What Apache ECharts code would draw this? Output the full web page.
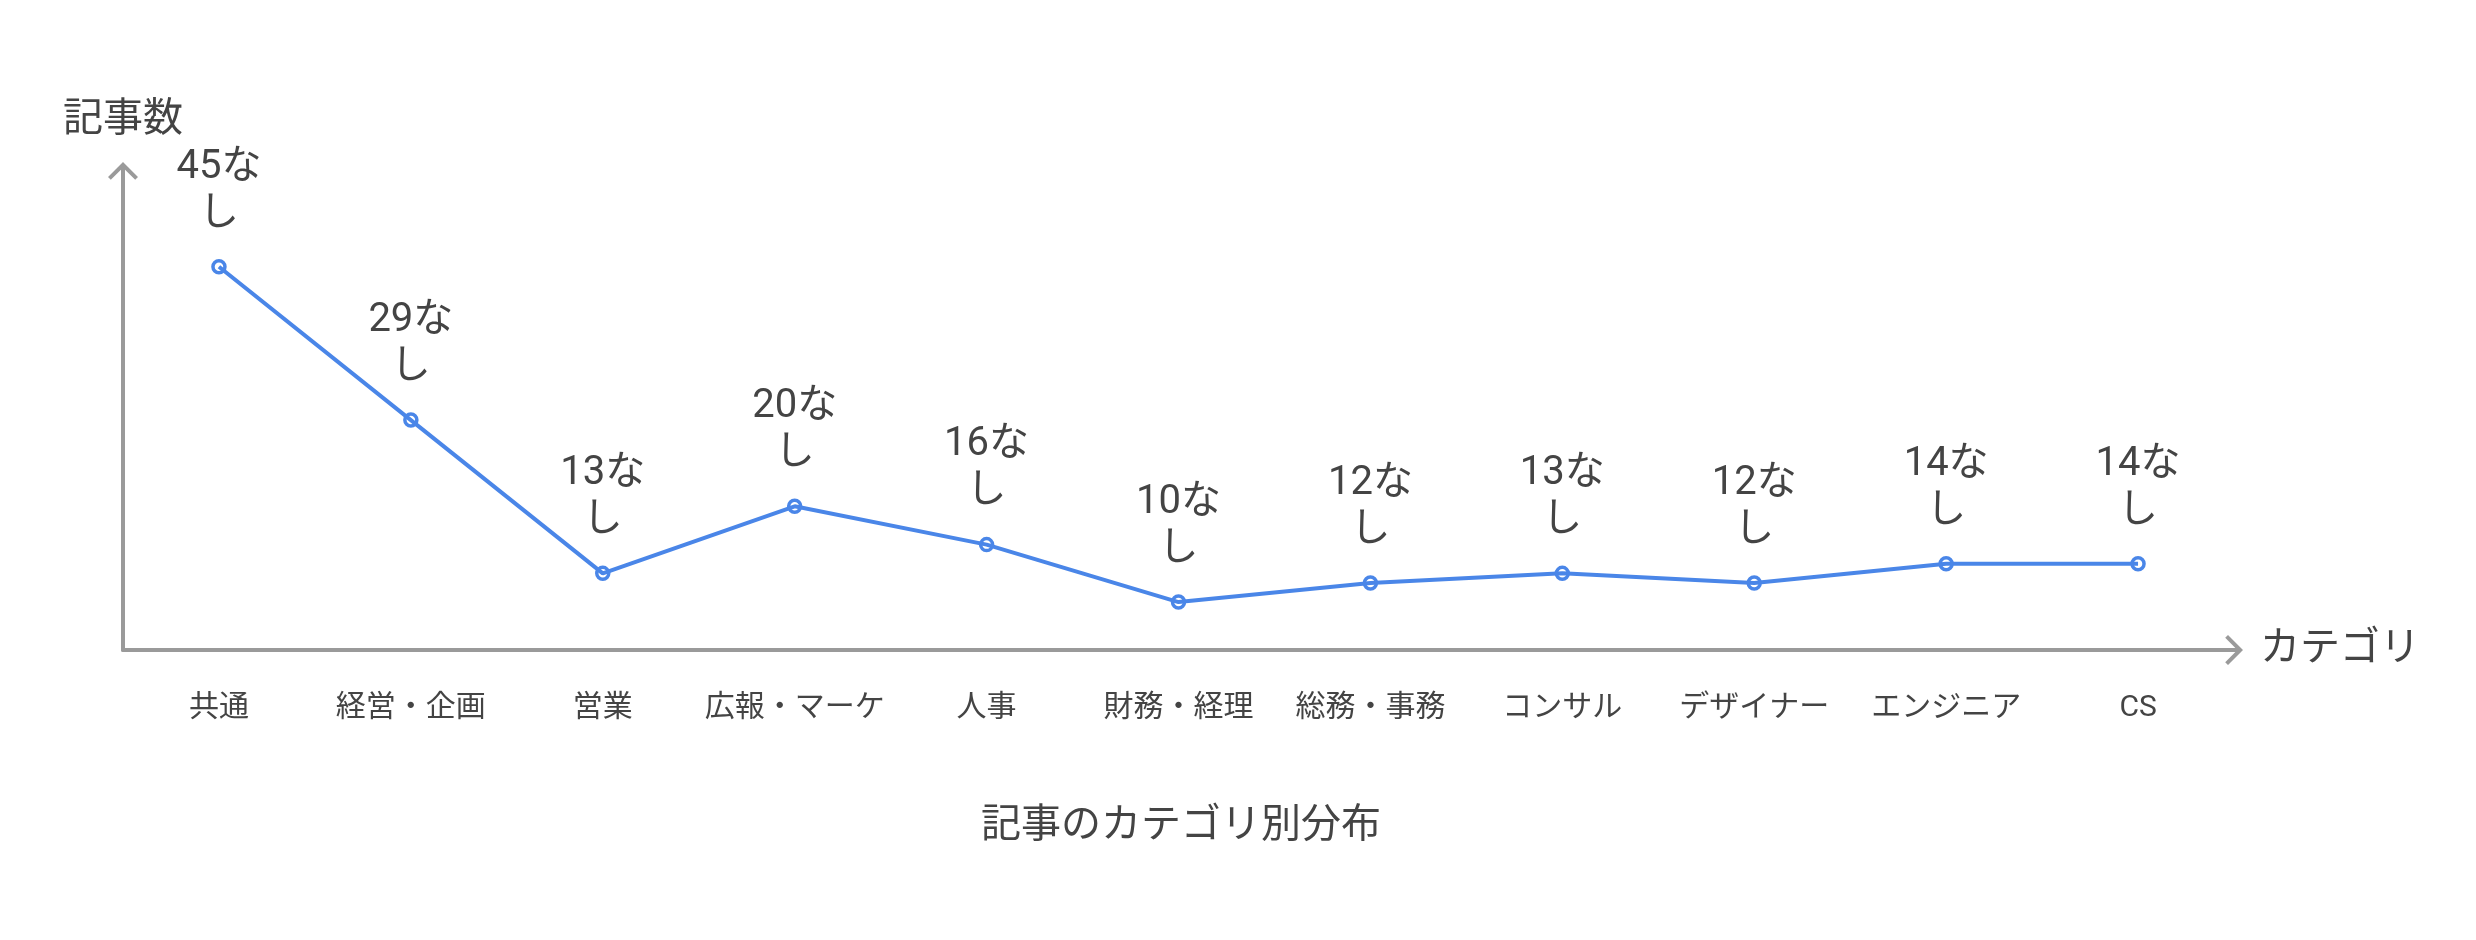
<!DOCTYPE html>
<html>
<head>
<meta charset="utf-8">
<script src="https://cdn.jsdelivr.net/npm/echarts@6/dist/echarts.min.js"></script>
<style>
html,body{margin:0;padding:0;background:#fff;}
#main{width:2476px;height:940px;}
</style>
</head>
<body>
<div id="main"></div>
<script>
const categories = ['共通','経営・企画','営業','広報・マーケ','人事','財務・経理','総務・事務','コンサル','デザイナー','エンジニア','CS'];
const articleCounts = [45,29,13,20,16,10,12,13,12,14,14];
const labelSuffix = 'な\nし';
const chartTitle = '記事のカテゴリ別分布';
const xAxisName = 'カテゴリ';
const yAxisName = '記事数';

const FONT = "Roboto, 'Noto Sans CJK JP', sans-serif";
const TEXT = '#444444';
const AXIS = '#9a9a9a';
const BLUE = '#4a86e8';
const arrowPath = 'path://M15,0 L30,15 L27.2,17.8 L15,5.66 L2.8,17.8 L0,15 Z M13,2 L17,2 L17,18 L13,18 Z';

const chart = echarts.init(document.getElementById('main'));
chart.setOption({
  backgroundColor: '#ffffff',
  animation: false,
  title: {
    text: chartTitle,
    left: 976,
    top: 802,
    textStyle: { fontFamily: FONT, fontSize: 40, fontWeight: 'normal', color: TEXT }
  },
  grid: { left: 123, top: 171, width: 2111, height: 479 },
  xAxis: {
    type: 'category',
    data: categories,
    boundaryGap: true,
    name: xAxisName,
    nameLocation: 'end',
    nameGap: 26,
    nameTextStyle: { fontFamily: FONT, fontSize: 40, color: TEXT, verticalAlign: 'middle' },
    axisLine: {
      show: true,
      symbol: ['none', arrowPath],
      symbolSize: [30, 18],
      symbolOffset: [0, 0],
      lineStyle: { color: AXIS, width: 4 }
    },
    axisTick: { show: false },
    axisLabel: { fontFamily: FONT, fontSize: 30, color: TEXT, margin: 43, interval: 0 },
    splitLine: { show: false }
  },
  yAxis: {
    type: 'value',
    min: 5,
    max: 55,
    name: yAxisName,
    nameLocation: 'end',
    nameGap: 30,
    nameTextStyle: { fontFamily: FONT, fontSize: 40, color: TEXT, align: 'center' },
    axisLine: {
      show: true,
      symbol: ['none', arrowPath],
      symbolSize: [30, 18],
      symbolOffset: [0, 0],
      lineStyle: { color: AXIS, width: 4 }
    },
    axisTick: { show: false },
    axisLabel: { show: false },
    splitLine: { show: false }
  },
  series: [{
    type: 'line',
    data: articleCounts,
    symbol: 'circle',
    symbolSize: 12,
    lineStyle: { color: BLUE, width: 4 },
    itemStyle: { color: 'rgba(255,255,255,0)', borderColor: BLUE, borderWidth: 3.5 },
    z: 2,
    label: {
      show: true,
      position: 'top',
      distance: 21,
      fontFamily: FONT,
      fontSize: 40,
      lineHeight: 47,
      color: TEXT,
      align: 'center',
      formatter: function (p) { return p.value + labelSuffix; }
    }
  }]
});
</script>
</body>
</html>
